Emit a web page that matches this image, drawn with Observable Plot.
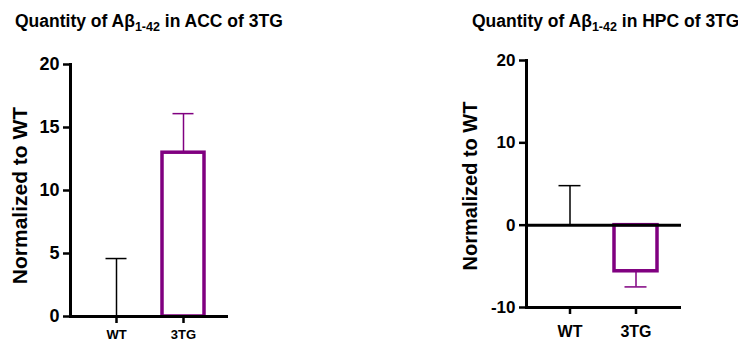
<!DOCTYPE html>
<html>
<head>
<meta charset="utf-8">
<script src="https://cdn.jsdelivr.net/npm/d3@7"></script>
<script src="https://cdn.jsdelivr.net/npm/@observablehq/plot@0.6"></script>
<style>
  html, body { margin: 0; padding: 0; background: #fff; }
  #wrap { position: relative; width: 738px; height: 345px; overflow: hidden; font-family: "Liberation Sans", Arial, sans-serif; }
  .panel { position: absolute; top: 0; }
  .title { position: absolute; font-weight: bold; font-size: 17.5px; line-height: 17px; white-space: nowrap; color: #000; }
  .title .sub { font-size: 12.5px; position: relative; top: 4px; }
</style>
</head>
<body>
<div id="wrap">
  <div id="left" class="panel" style="left:0px"></div>
  <div id="right" class="panel" style="left:400px"></div>
  <div class="title" style="left:15px; top:13px">Quantity of Aβ<span class="sub">1-42</span> in ACC of 3TG</div>
  <div class="title" style="left:472px; top:13px">Quantity of Aβ<span class="sub">1-42</span> in HPC of 3TG</div>
</div>
<script>
const categories = ["WT", "3TG"];
const accMean = [0, 13.0];
const accSem = [4.6, 3.1];
const hpcMean = [0, -5.6];
const hpcSem = [4.8, 1.9];
const accTicks = [0, 5, 10, 15, 20];
const hpcTicks = [-10, 0, 10, 20];
const barColors = ["#000000", "#800080"];
const yLabel = "Normalized to WT";

function rows(mean, sem) {
  return categories.map((c, i) => ({
    cat: c,
    mean: mean[i],
    end: mean[i] + (mean[i] < 0 ? -sem[i] : sem[i])
  }));
}

function panel(o) {
  const data = rows(o.mean, o.sem);
  return Plot.plot({
    width: o.width,
    height: 345,
    marginLeft: o.marginLeft,
    marginRight: o.marginRight,
    marginTop: o.marginTop,
    marginBottom: o.marginBottom,
    style: { fontFamily: '"Liberation Sans", Arial, sans-serif', fontWeight: "bold", color: "#000", background: "transparent", overflow: "visible" },
    x: { type: "band", domain: categories, range: o.xRange, paddingInner: o.padInner, paddingOuter: o.padInner / 2 },
    y: { domain: o.yDomain },
    color: { domain: categories, range: barColors },
    marks: [
      Plot.axisY({ ticks: o.ticks, tickSize: 7, tickPadding: 4, fontSize: o.tickFont, fontWeight: "bold", strokeWidth: 2.5, label: null, tickFormat: d => String(d) }),
      Plot.axisX({ tickSize: 7, tickPadding: o.xPad, fontSize: o.xFont, fontWeight: "bold", strokeWidth: 2.5, label: null }),
      Plot.barY(data, { x: "cat", y: "mean", fill: "white", stroke: "cat", strokeWidth: 3.5 }),
      Plot.ruleX(data, { x: "cat", y1: "mean", y2: "end", stroke: "cat", strokeWidth: 1.5 }),
      Plot.tickY(data, { x: "cat", y: "end", stroke: "cat", strokeWidth: 1.5, insetLeft: o.capInset, insetRight: o.capInset }),
      Plot.ruleY(o.rules, { strokeWidth: 3 }),
      Plot.frame({ anchor: "left", strokeWidth: 3 }),
      Plot.text([yLabel], { frameAnchor: "left", textAnchor: "middle", lineAnchor: "middle", dx: o.labelDx, dy: o.labelDy, rotate: -90, fontSize: o.labelFont, fontWeight: "bold" })
    ]
  });
}

document.getElementById("left").appendChild(panel({
  mean: accMean, sem: accSem, ticks: accTicks, yDomain: [0, 20],
  width: 250, marginLeft: 70, marginRight: 22, marginTop: 64, marginBottom: 29,
  xRange: [82.5, 216.5], padInner: 0.373, tickFont: 18, xFont: 13, xPad: 6,
  capInset: 10.5, labelDx: -50, labelDy: 5, labelFont: 21, rules: [0]
}));

document.getElementById("right").appendChild(panel({
  mean: hpcMean, sem: hpcSem, ticks: hpcTicks, yDomain: [-10, 20],
  width: 338, marginLeft: 126, marginRight: 57, marginTop: 60, marginBottom: 38,
  xRange: [137, 269], padInner: 0.348, tickFont: 17, xFont: 16, xPad: 11,
  capInset: 10.5, labelDx: -56, labelDy: 2, labelFont: 20, rules: [-10, 0]
}));
</script>
</body>
</html>
